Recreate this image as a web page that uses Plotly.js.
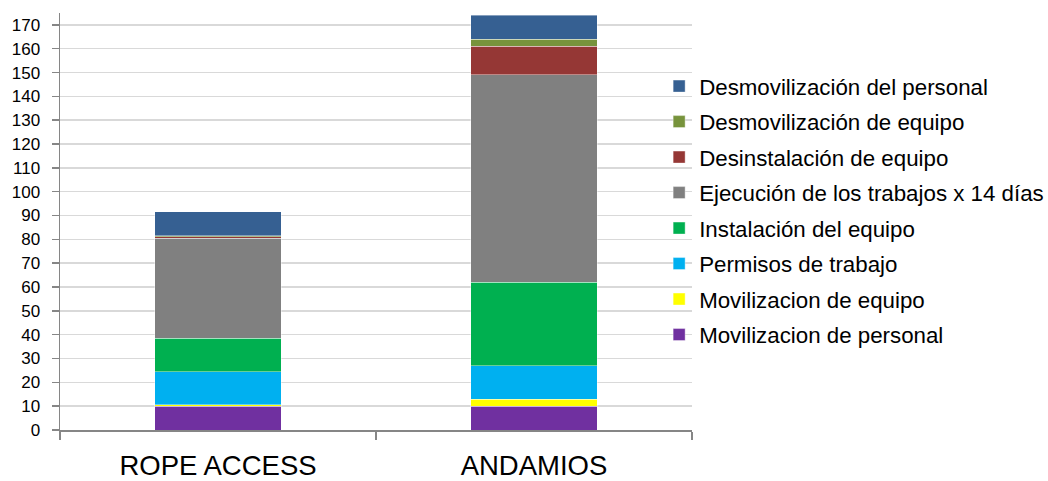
<!DOCTYPE html>
<html>
<head>
<meta charset="utf-8">
<script src="https://cdn.plot.ly/plotly-3.0.1.min.js"></script>
<style>html,body{margin:0;padding:0;background:#fff;}#chart{width:1048px;height:481px;}</style>
</head>
<body>
<div id="chart"></div>
<script>
var categories = ["ROPE ACCESS", "ANDAMIOS"];
var seriesNames = [
  "Movilizacion de personal",
  "Movilizacion de equipo",
  "Permisos de trabajo",
  "Instalación del equipo",
  "Ejecución de los trabajos x 14 días",
  "Desinstalación de equipo",
  "Desmovilización de equipo",
  "Desmovilización del personal"
];
var movPersonal = [10, 10];
var movEquipo = [0.5, 3];
var permisos = [14, 14];
var instalacion = [14, 35];
var ejecucion = [42, 87];
var desinstalacion = [0.5, 12];
var desmovEquipo = [0.5, 3];
var desmovPersonal = [10, 10];
var yTicks = [0,10,20,30,40,50,60,70,80,90,100,110,120,130,140,150,160,170];

var seriesValues = [movPersonal, movEquipo, permisos, instalacion, ejecucion, desinstalacion, desmovEquipo, desmovPersonal];
var colors = ["#7030A0", "#FFFF00", "#00B0F0", "#00B050", "#808080", "#953735", "#77933C", "#366092"];

var data = seriesNames.map(function(name, i) {
  return {
    type: "bar",
    name: name,
    x: categories,
    y: seriesValues[i],
    legendgroup: "g" + i,
    legendrank: 100 - i,
    marker: {color: colors[i], line: {color: "rgba(255,255,255,0.5)", width: 0.8}},
    hoverinfo: "name+y"
  };
});

var layout = {
  width: 1048,
  height: 481,
  barmode: "stack",
  bargap: 0.6,
  paper_bgcolor: "#ffffff",
  plot_bgcolor: "rgba(0,0,0,0)",
  margin: {l: 60, r: 356, t: 13, b: 51, pad: 0, autoexpand: false},
  font: {family: "Liberation Sans, Arial, sans-serif", color: "#000000"},
  xaxis: {
    type: "category",
    showgrid: false,
    showline: true,
    linecolor: "#868686",
    linewidth: 1.5,
    ticks: "outside",
    tickson: "boundaries",
    ticklen: 8,
    tickcolor: "#868686",
    tickwidth: 1.5,
    tickfont: {size: 27.5, family: "Liberation Sans, Arial, sans-serif"},
    ticklabelstandoff: 10,
    zeroline: false
  },
  yaxis: {
    range: [0, 175],
    tickvals: yTicks,
    ticktext: yTicks.map(String),
    showgrid: true,
    gridcolor: "#D9D9D9",
    gridwidth: 1.5,
    showline: true,
    linecolor: "#868686",
    linewidth: 1.5,
    ticks: "outside",
    ticklen: 7,
    tickcolor: "#868686",
    tickwidth: 1.5,
    tickfont: {size: 17, family: "Liberation Sans, Arial, sans-serif"},
    ticklabelstandoff: 8,
    zeroline: false
  },
  legend: {
    x: 0.948,
    xanchor: "left",
    y: 0.875,
    yanchor: "top",
    traceorder: "grouped",
    tracegroupgap: 3.5,
    bgcolor: "rgba(255,255,255,0)",
    font: {size: 22.3, family: "Liberation Sans, Arial, sans-serif", color: "#000"},
    itemwidth: 30
  },
  showlegend: true
};

Plotly.newPlot("chart", data, layout, {displayModeBar: false, staticPlot: true});
</script>
</body>
</html>
